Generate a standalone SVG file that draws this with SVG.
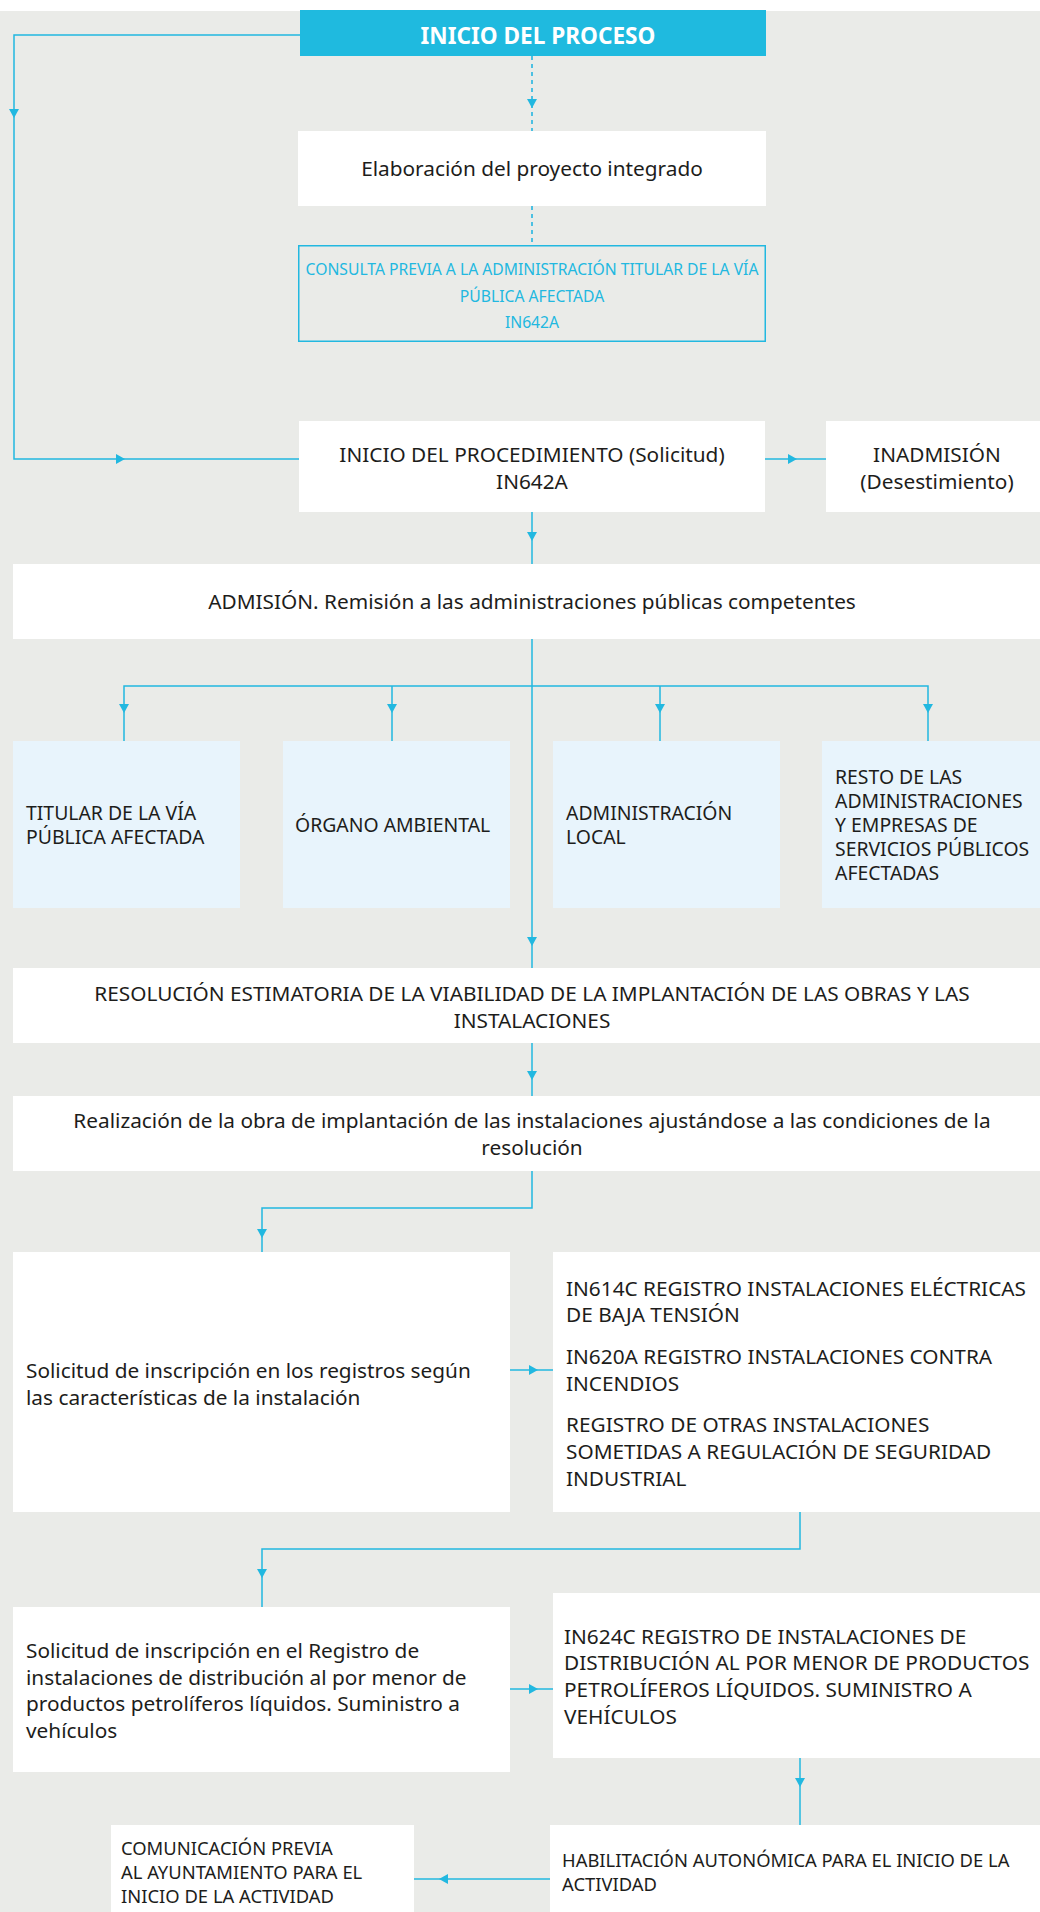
<svg xmlns="http://www.w3.org/2000/svg" xmlns:xlink="http://www.w3.org/1999/xlink" width="1040" height="1912" viewBox="0 0 1040 1912">
<style>
.bg{fill:#eaebe8}
.w{fill:#ffffff}
.lb{fill:#e8f4fc}
.t{font-family:"Noto Sans","Liberation Sans",sans-serif;font-size:20.8px;fill:#1d1d1b}
.s{font-size:19.4px}
.sm{font-size:18.4px}
.c{text-anchor:middle}
.ln{fill:none;stroke:#22b8e0;stroke-width:1.5}
.dash{stroke:#4cc0e2;stroke-dasharray:4 4;stroke-width:2}
.ah{fill:#22b8e0}
</style>
<defs>
<path id="ad" d="M-5,-9 L5,-9 L0,0 Z"/>
</defs>
<rect class="bg" x="0" y="11" width="1040" height="1901"/>

<g id="connectors">
<path class="ln dash" d="M532,56 V131"/>
<use xlink:href="#ad" class="ah" transform="translate(532,108)"/>
<path class="ln dash" d="M532,206 V245"/>
<path class="ln" d="M300,35 H14 V459 H299"/>
<use xlink:href="#ad" class="ah" transform="translate(14,118)"/>
<use xlink:href="#ad" class="ah" transform="translate(125,459) rotate(-90)"/>
<path class="ln" d="M765,459 H826"/>
<use xlink:href="#ad" class="ah" transform="translate(797,459) rotate(-90)"/>
<path class="ln" d="M532,512 V564"/>
<use xlink:href="#ad" class="ah" transform="translate(532,541)"/>
<path class="ln" d="M532,639 V968"/>
<use xlink:href="#ad" class="ah" transform="translate(532,946)"/>
<path class="ln" d="M124,741 V686 H928 V741 M392,686 V741 M660,686 V741"/>
<use xlink:href="#ad" class="ah" transform="translate(124,713)"/>
<use xlink:href="#ad" class="ah" transform="translate(392,713)"/>
<use xlink:href="#ad" class="ah" transform="translate(660,713)"/>
<use xlink:href="#ad" class="ah" transform="translate(928,713)"/>
<path class="ln" d="M532,1043 V1096"/>
<use xlink:href="#ad" class="ah" transform="translate(532,1080)"/>
<path class="ln" d="M532,1171 V1208 H262 V1252"/>
<use xlink:href="#ad" class="ah" transform="translate(262,1238)"/>
<path class="ln" d="M510,1370 H553"/>
<use xlink:href="#ad" class="ah" transform="translate(538,1370) rotate(-90)"/>
<path class="ln" d="M800,1512 V1549 H262 V1607"/>
<use xlink:href="#ad" class="ah" transform="translate(262,1578)"/>
<path class="ln" d="M510,1689 H553"/>
<use xlink:href="#ad" class="ah" transform="translate(538,1689) rotate(-90)"/>
<path class="ln" d="M800,1758 V1825"/>
<use xlink:href="#ad" class="ah" transform="translate(800,1787)"/>
<path class="ln" d="M550,1879 H414"/>
<use xlink:href="#ad" class="ah" transform="translate(439,1879) rotate(90)"/>
</g>

<g id="inicio-proceso">
<rect x="300" y="10" width="466" height="46" fill="#1fbadf"/>
<text class="t c" x="538" y="44" style="font-size:22.6px;font-weight:bold;fill:#ffffff">INICIO DEL PROCESO</text>
</g>

<g id="elaboracion">
<rect class="w" x="298" y="131" width="468" height="75"/>
<text class="t c" x="532" y="176">Elaboración del proyecto integrado</text>
</g>

<g id="consulta">
<rect x="298.75" y="245.75" width="466.5" height="95.5" fill="none" stroke="#22b8e0" stroke-width="1.5"/>
<text class="t c" style="font-size:15.7px;fill:#22b8e0"><tspan x="532" y="275">CONSULTA PREVIA A LA ADMINISTRACIÓN TITULAR DE LA VÍA</tspan><tspan x="532" y="302">PÚBLICA AFECTADA</tspan><tspan x="532" y="328">IN642A</tspan></text>
</g>

<g id="inicio-procedimiento">
<rect class="w" x="299" y="421" width="466" height="91"/>
<text class="t c"><tspan x="532" y="462">INICIO DEL PROCEDIMIENTO (Solicitud)</tspan><tspan x="532" y="489">IN642A</tspan></text>
</g>

<g id="inadmision">
<rect class="w" x="826" y="421" width="214" height="91"/>
<text class="t c"><tspan x="937" y="462">INADMISIÓN</tspan><tspan x="937" y="489">(Desestimiento)</tspan></text>
</g>

<g id="admision">
<rect class="w" x="13" y="564" width="1027" height="75"/>
<text class="t c" x="532" y="609">ADMISIÓN. Remisión a las administraciones públicas competentes</text>
</g>

<g id="titular">
<rect class="lb" x="13" y="741" width="227" height="167"/>
<text class="t s"><tspan x="26" y="820">TITULAR DE LA VÍA</tspan><tspan x="26" y="844">PÚBLICA AFECTADA</tspan></text>
</g>

<g id="organo">
<rect class="lb" x="283" y="741" width="227" height="167"/>
<text class="t s" x="295" y="832">ÓRGANO AMBIENTAL</text>
</g>

<g id="admin-local">
<rect class="lb" x="553" y="741" width="227" height="167"/>
<text class="t s"><tspan x="566" y="820">ADMINISTRACIÓN</tspan><tspan x="566" y="844">LOCAL</tspan></text>
</g>

<g id="resto">
<rect class="lb" x="822" y="741" width="218" height="167"/>
<text class="t s"><tspan x="835" y="784">RESTO DE LAS</tspan><tspan x="835" y="808">ADMINISTRACIONES</tspan><tspan x="835" y="832">Y EMPRESAS DE</tspan><tspan x="835" y="856">SERVICIOS PÚBLICOS</tspan><tspan x="835" y="880">AFECTADAS</tspan></text>
</g>

<g id="resolucion">
<rect class="w" x="13" y="968" width="1027" height="75"/>
<text class="t c"><tspan x="532" y="1001">RESOLUCIÓN ESTIMATORIA DE LA VIABILIDAD DE LA IMPLANTACIÓN DE LAS OBRAS Y LAS</tspan><tspan x="532" y="1028">INSTALACIONES</tspan></text>
</g>

<g id="realizacion">
<rect class="w" x="13" y="1096" width="1027" height="75"/>
<text class="t c"><tspan x="532" y="1128">Realización de la obra de implantación de las instalaciones ajustándose a las condiciones de la</tspan><tspan x="532" y="1155">resolución</tspan></text>
</g>

<g id="solicitud-registros">
<rect class="w" x="13" y="1252" width="497" height="260"/>
<text class="t"><tspan x="26" y="1378">Solicitud de inscripción en los registros según</tspan><tspan x="26" y="1405">las características de la instalación</tspan></text>
</g>

<g id="registros">
<rect class="w" x="553" y="1252" width="487" height="260"/>
<text class="t"><tspan x="566" y="1296">IN614C REGISTRO INSTALACIONES ELÉCTRICAS</tspan><tspan x="566" y="1322">DE BAJA TENSIÓN</tspan><tspan x="566" y="1364">IN620A REGISTRO INSTALACIONES CONTRA</tspan><tspan x="566" y="1391">INCENDIOS</tspan><tspan x="566" y="1432">REGISTRO DE OTRAS INSTALACIONES</tspan><tspan x="566" y="1459">SOMETIDAS A REGULACIÓN DE SEGURIDAD</tspan><tspan x="566" y="1486">INDUSTRIAL</tspan></text>
</g>

<g id="solicitud-petroliferos">
<rect class="w" x="13" y="1607" width="497" height="165"/>
<text class="t"><tspan x="26" y="1658">Solicitud de inscripción en el Registro de</tspan><tspan x="26" y="1685">instalaciones de distribución al por menor de</tspan><tspan x="26" y="1711">productos petrolíferos líquidos. Suministro a</tspan><tspan x="26" y="1738">vehículos</tspan></text>
</g>

<g id="in624c">
<rect class="w" x="553" y="1593" width="487" height="165"/>
<text class="t"><tspan x="564" y="1644">IN624C REGISTRO DE INSTALACIONES DE</tspan><tspan x="564" y="1670">DISTRIBUCIÓN AL POR MENOR DE PRODUCTOS</tspan><tspan x="564" y="1697">PETROLÍFEROS LÍQUIDOS. SUMINISTRO A</tspan><tspan x="564" y="1724">VEHÍCULOS</tspan></text>
</g>

<g id="habilitacion">
<rect class="w" x="550" y="1825" width="490" height="87"/>
<text class="t sm"><tspan x="562" y="1867">HABILITACIÓN AUTONÓMICA PARA EL INICIO DE LA</tspan><tspan x="562" y="1891">ACTIVIDAD</tspan></text>
</g>

<g id="comunicacion">
<rect class="w" x="111" y="1825" width="303" height="87"/>
<text class="t sm"><tspan x="121" y="1855">COMUNICACIÓN PREVIA</tspan><tspan x="121" y="1879">AL AYUNTAMIENTO PARA EL</tspan><tspan x="121" y="1903">INICIO DE LA ACTIVIDAD</tspan></text>
</g>
</svg>
